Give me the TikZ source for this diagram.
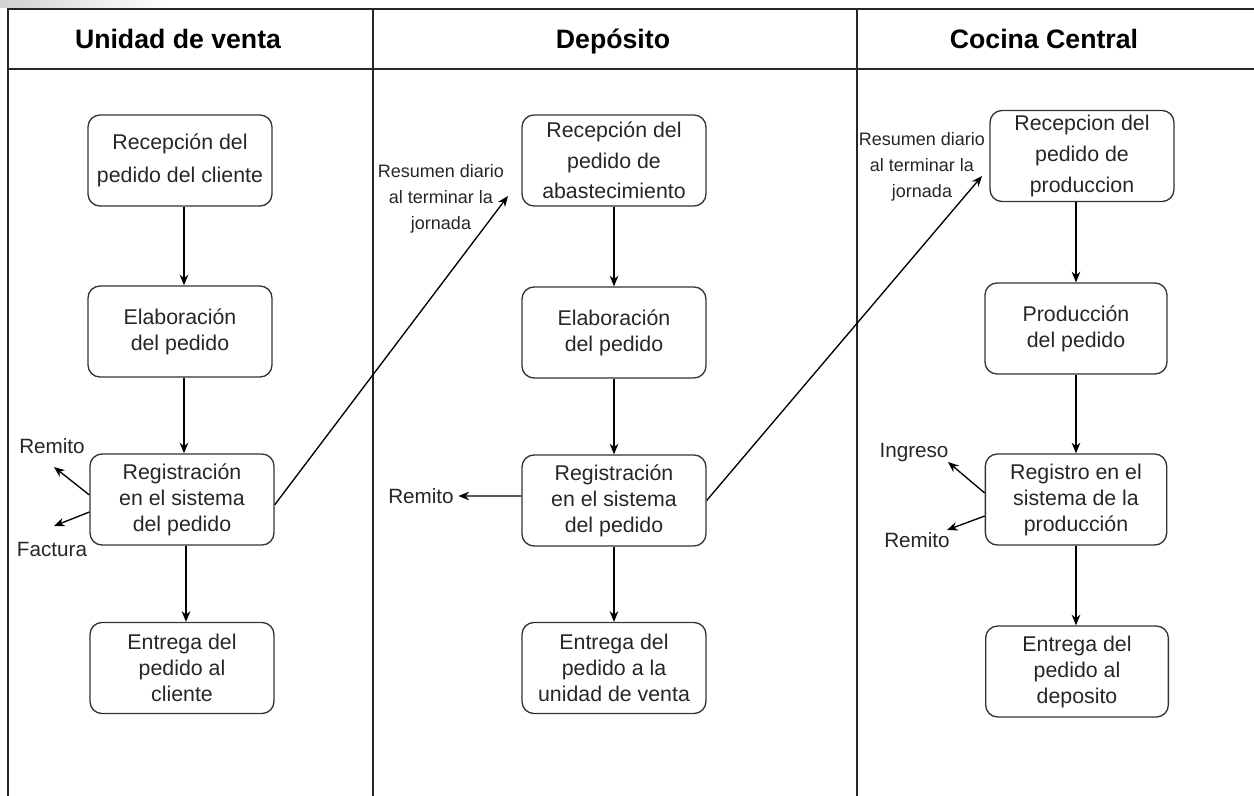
\documentclass[tikz,border=0pt]{standalone}
\usepackage{fontspec}
\setmainfont{Liberation Sans}
\usetikzlibrary{arrows.meta}
\begin{document}
\begin{tikzpicture}[x=0.75pt,y=-0.75pt,
  frame/.style={draw=black!85, line width=1.1pt},
  stepbox/.style={draw=black!80, line width=1pt, rounded corners=9pt,
    minimum width=138pt, minimum height=68.25pt, align=center,
    text=black!85, inner sep=1pt, font=\fontsize{16}{19.5}\selectfont},
  tallbox/.style={stepbox, font=\fontsize{16}{23}\selectfont},
  lanehead/.style={anchor=base, font=\bfseries\fontsize{20}{24}\selectfont, text=black},
  note/.style={align=center, text=black!85, font=\fontsize{13.5}{19.5}\selectfont},
  doc/.style={text=black!85, font=\fontsize{15.5}{18}\selectfont},
  flow/.style={draw=black, line width=1pt, -{Stealth[length=8pt,width=6.5pt]}}
]
\useasboundingbox (0,0) rectangle (1254,796);

% faint strip along the top edge
\shade[left color=black!18, right color=white, draw=none] (0,0) rectangle (168,7);

% swimlane frame
\draw[frame] (1254,9) -- (8,9) -- (8,796);
\draw[frame] (8,69) -- (1254,69);
\draw[frame] (373,9) -- (373,796);
\draw[frame] (857,9) -- (857,796);

% lane titles, sharing one baseline
\node[lanehead] (h1) at (178,48) {Unidad de venta};
\node[lanehead] (h2) at (613,48) {Depósito};
\node[lanehead] (h3) at (1044,48) {Cocina Central};

% Unidad de venta
\node[stepbox, font=\fontsize{16}{24.5}\selectfont] (u1) at (180,160.5) {Recepción del\\pedido del cliente};
\node[stepbox] (u2) at (180,331.5) {Elaboración\\del pedido};
\node[stepbox] (u3) at (182,499.5) {Registración\\en el sistema\\del pedido};
\node[stepbox] (u4) at (182,668) {Entrega del\\pedido al\\cliente};

% Depósito
\node[tallbox] (d1) at (614,160.5) {Recepción del\\pedido de\\abastecimiento};
\node[stepbox] (d2) at (614,332.5) {Elaboración\\del pedido};
\node[stepbox] (d3) at (614,500.5) {Registración\\en el sistema\\del pedido};
\node[stepbox] (d4) at (614,668) {Entrega del\\pedido a la\\unidad de venta};

% Cocina Central
\node[tallbox] (c1) at (1082,156) {Recepcion del\\pedido de\\produccion};
\node[stepbox, minimum width=136.5pt] (c2) at (1076,328.5) {Producción\\del pedido};
\node[stepbox, minimum width=136pt] (c3) at (1076,499.5) {Registro en el\\sistema de la\\producción};
\node[stepbox, minimum width=137pt] (c4) at (1077,671.5) {Entrega del\\pedido al\\deposito};

% main flow inside each lane
\draw[flow] ([xshift=3pt]u1.south) -- ([xshift=3pt]u2.north);
\draw[flow] ([xshift=3pt]u2.south) -- ([xshift=3pt]u2.south |- u3.north);
\draw[flow] ([xshift=3pt]u3.south) -- ([xshift=3pt]u4.north);
\draw[flow] (d1.south) -- (d2.north);
\draw[flow] (d2.south) -- (d3.north);
\draw[flow] (d3.south) -- (d4.north);
\draw[flow] (c2.north |- c1.south) -- (c2.north);
\draw[flow] (c2.south) -- (c3.north);
\draw[flow] (c3.south) -- (c3.south |- c4.north);

% documents issued
\node[doc] (r1) at (52,446) {Remito};
\node[doc] (f1) at (52,549) {Factura};
\coordinate (r1t) at (54,467);
\coordinate (f1t) at (54,526);
\draw[flow] ([yshift=3.4pt]u3.west) -- (r1t);
\draw[flow] ([yshift=-9.4pt]u3.west) -- (f1t);

\node[doc] (r2) at (421,496) {Remito};
\draw[flow] ([yshift=3.4pt]d3.west) -- (r2.east);

\node[doc] (i3) at (914,453) {Ingreso};
\node[doc] (r3) at (917,540) {Remito};
\coordinate (i3t) at (948,462);
\coordinate (r3t) at (947,530);
\draw[flow] ([yshift=4.9pt]c3.west) -- (i3t);
\draw[flow] ([yshift=-12.4pt]c3.west) -- (r3t);

% daily summaries between lanes
\coordinate (s1) at (508,196);
\coordinate (s2) at (982,176);
\draw[flow] ([yshift=-4pt]u3.east) -- (s1);
\draw[flow] (d3.east) -- (s2);
\node[note] (n1) at (441,199) {Resumen diario\\al terminar la\\jornada};
\node[note] (n2) at (922,167) {Resumen diario\\al terminar la\\jornada};
\end{tikzpicture}
\end{document}
